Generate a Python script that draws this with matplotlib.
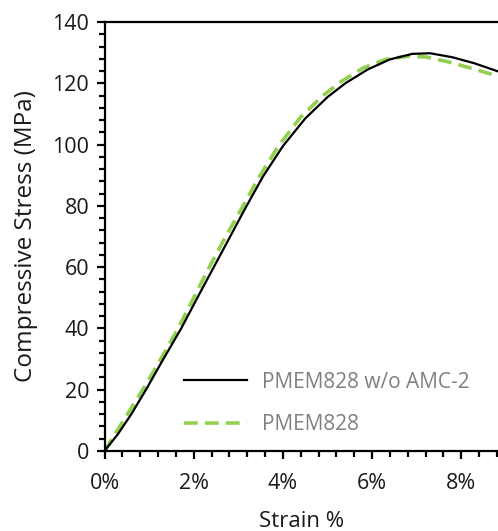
import matplotlib
matplotlib.use("Agg")
import matplotlib.pyplot as plt
from matplotlib.ticker import MultipleLocator, PercentFormatter

plt.rcParams['font.family'] = ['Open Sans', 'DejaVu Sans']

# Data (strain in %, stress in MPa)
strain_wo = [0, 0.3, 0.6, 0.93, 1.3, 1.72, 2.1, 2.45, 2.8, 3.13, 3.55, 4.0, 4.5, 5.0,
             5.4, 5.9, 6.4, 6.9, 7.3, 7.8, 8.3, 8.9]
stress_wo = [0, 5.5, 12, 20, 29.5, 40, 50.5, 60, 69.5, 78.5, 89.5, 99.5, 108.5, 115.5,
             120, 124.5, 127.8, 129.6, 129.8, 128.5, 126.5, 123.5]

strain_pm = [0, 0.3, 0.6, 0.9, 1.3, 1.65, 2.0, 2.35, 2.7, 3.05, 3.45, 3.9, 4.4, 4.9,
             5.3, 5.8, 6.3, 6.8, 7.2, 7.7, 8.2, 8.9]
stress_pm = [0, 7, 14, 21, 31, 40, 50, 60, 69.5, 78.5, 89, 99.5, 109, 116,
             120.5, 125, 127.8, 128.8, 128.6, 127, 125, 122]

labels = ['PMEM828 w/o AMC-2', 'PMEM828']

fig = plt.figure(figsize=(4.98, 5.31), dpi=100)
ax = fig.add_axes([104.5/498, 1-451/531, 1-104.5/498, (451-22)/531])

ax.plot(strain_wo, stress_wo, color='black', lw=1.6, label=labels[0], zorder=3)
ax.plot(strain_pm, stress_pm, color='#92D050', lw=2.6, dashes=(3.8, 2.0), label=labels[1], zorder=2)

ax.set_xlim(0, (498-104.5)/44.6)
ax.set_ylim(0, 140)
ax.xaxis.set_major_locator(MultipleLocator(2))
ax.xaxis.set_minor_locator(MultipleLocator(0.4))
ax.xaxis.set_major_formatter(PercentFormatter(100, decimals=0))
ax.yaxis.set_major_locator(MultipleLocator(20))
ax.yaxis.set_minor_locator(MultipleLocator(4))

for s in ['left', 'bottom', 'top']:
    ax.spines[s].set_linewidth(1.6)
ax.spines['right'].set_visible(False)
ax.tick_params(which='major', direction='out', length=6, width=1.6, labelsize=15.5,
               labelcolor='#1a1a1a', pad=5)
ax.tick_params(which='minor', direction='out', length=4, width=1.6)
ax.tick_params(axis='x', pad=10)

ax.set_xlabel('Strain %', fontsize=16, color='#1a1a1a', labelpad=12)
ax.set_ylabel('Compressive Stress (MPa)', fontsize=17.5, color='#1a1a1a', labelpad=10)

leg = ax.legend(loc='center left', bbox_to_anchor=((184-104.5)/393.5, (451-403.5)/429),
                frameon=False, fontsize=15, handlelength=3.0, handletextpad=0.75,
                labelspacing=1.05, borderpad=0, borderaxespad=0)
for t in leg.get_texts():
    t.set_color('#808080')

fig.savefig('out.png', dpi=100)
